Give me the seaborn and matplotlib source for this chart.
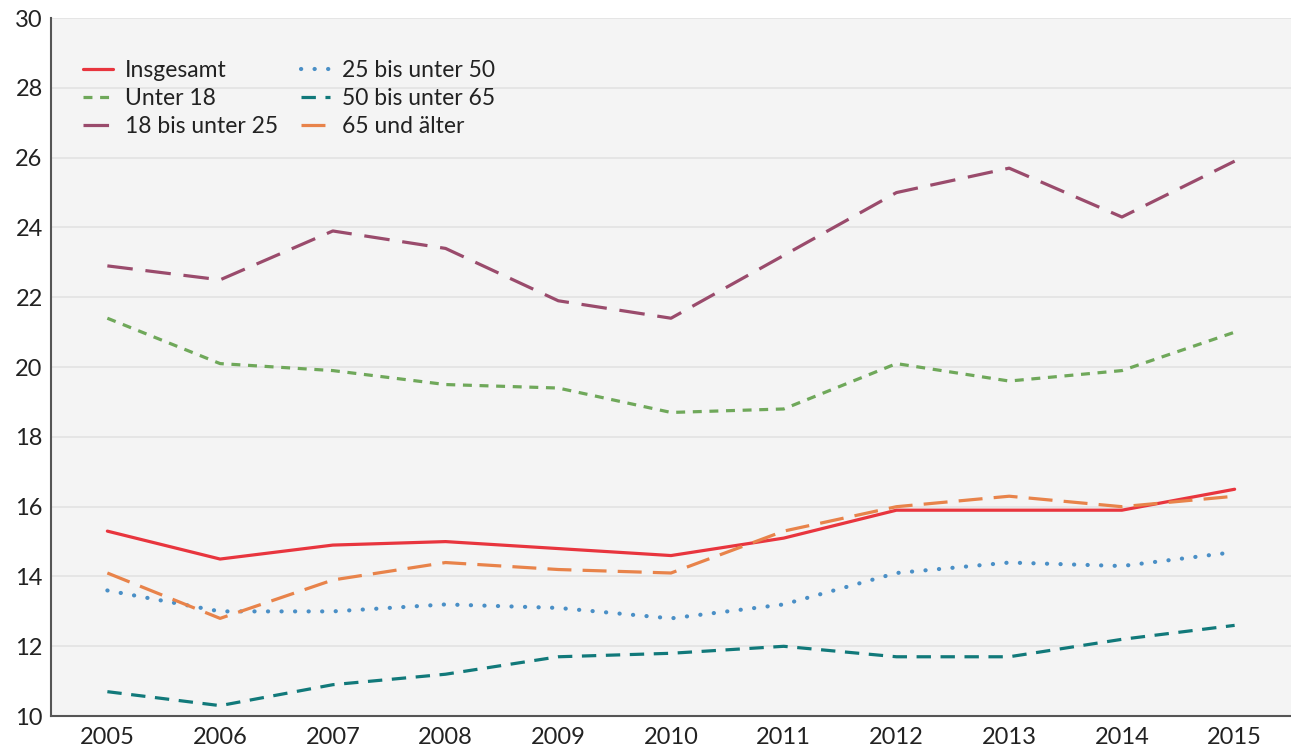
import pandas as pd
import matplotlib.pyplot as plt
import seaborn as sns

# Data
years = list(range(2005, 2016))
insgesamt = [15.3, 14.5, 14.9, 15.0, 14.8, 14.6, 15.1, 15.9, 15.9, 15.9, 16.5]
unter_18 = [21.4, 20.1, 19.9, 19.5, 19.4, 18.7, 18.8, 20.1, 19.6, 19.9, 21.0]
bis_25 = [22.9, 22.5, 23.9, 23.4, 21.9, 21.4, 23.2, 25.0, 25.7, 24.3, 25.9]
bis_50 = [13.6, 13.0, 13.0, 13.2, 13.1, 12.8, 13.2, 14.1, 14.4, 14.3, 14.7]
bis_65 = [10.7, 10.3, 10.9, 11.2, 11.7, 11.8, 12.0, 11.7, 11.7, 12.2, 12.6]
ab_65 = [14.1, 12.8, 13.9, 14.4, 14.2, 14.1, 15.3, 16.0, 16.3, 16.0, 16.3]

series = {
    "Insgesamt": insgesamt,
    "Unter 18": unter_18,
    "18 bis unter 25": bis_25,
    "25 bis unter 50": bis_50,
    "50 bis unter 65": bis_65,
    "65 und älter": ab_65,
}
colors = {
    "Insgesamt": "#e8353e",
    "Unter 18": "#6fa85a",
    "18 bis unter 25": "#9a4b6c",
    "25 bis unter 50": "#4a8fc6",
    "50 bis unter 65": "#11797a",
    "65 und älter": "#e8834a",
}
dashes = {
    "Insgesamt": None,
    "Unter 18": (2.8, 2.4),
    "18 bis unter 25": (8, 4),
    "25 bis unter 50": (0.05, 3.2),
    "50 bis unter 65": (4.5, 3),
    "65 und älter": (7.5, 3.5),
}

df = pd.DataFrame({"Jahr": years, **series})
long = df.melt(id_vars="Jahr", var_name="Gruppe", value_name="Wert")

sns.set_style("white")
plt.rcParams["font.family"] = ["Lato", "DejaVu Sans"]

fig = plt.figure(figsize=(12.91, 7.53), dpi=100)
ax = fig.add_axes([0.0395, 0.049, 0.9605, 0.927])
ax.set_facecolor("#f4f4f4")

for name in series:
    d = long[long["Gruppe"] == name]
    sns.lineplot(data=d, x="Jahr", y="Wert", ax=ax, color=colors[name],
                 linewidth=2.3, label=name)
    line = ax.get_lines()[-1]
    if dashes[name] is not None:
        line.set_dashes(dashes[name])
    if name == "25 bis unter 50":
        line.set_dash_capstyle("round")
        line.set_linewidth(3.0)

ax.set_xlim(2004.5, 2015.5)
ax.set_ylim(10, 30)
ax.set_xticks(years)
ax.set_yticks(range(10, 31, 2))
ax.set_yticks(range(11, 30, 2), minor=True)
ax.set_xlabel("")
ax.set_ylabel("")
ax.grid(axis="y", color="#e2e2e2", linewidth=1.2)
ax.set_axisbelow(True)
ax.tick_params(axis="both", which="major", labelsize=17, colors="#222222",
               length=0, pad=6)
ax.tick_params(axis="x", which="major", length=6, color="#dddddd",
               direction="out", pad=2)
ax.tick_params(axis="y", which="minor", length=4, color="#cccccc")
for s in ["top", "right"]:
    ax.spines[s].set_visible(False)
for s in ["left", "bottom"]:
    ax.spines[s].set_color("#555555")
    ax.spines[s].set_linewidth(1.5)

handles, labels = ax.get_legend_handles_labels()
for h, n in zip(handles, labels):
    if dashes[n] is not None:
        h.set_dashes(dashes[n])
    if n == "25 bis unter 50":
        h.set_dash_capstyle("round")
        h.set_linewidth(3.0)
ax.legend(handles, labels, ncol=2, loc="upper left", bbox_to_anchor=(0.0095, 0.969),
          frameon=False, fontsize=16.5, handlelength=1.3, handletextpad=0.5,
          columnspacing=1.0, labelspacing=0.3, labelcolor="#222222")

fig.savefig("out.png", dpi=100)
